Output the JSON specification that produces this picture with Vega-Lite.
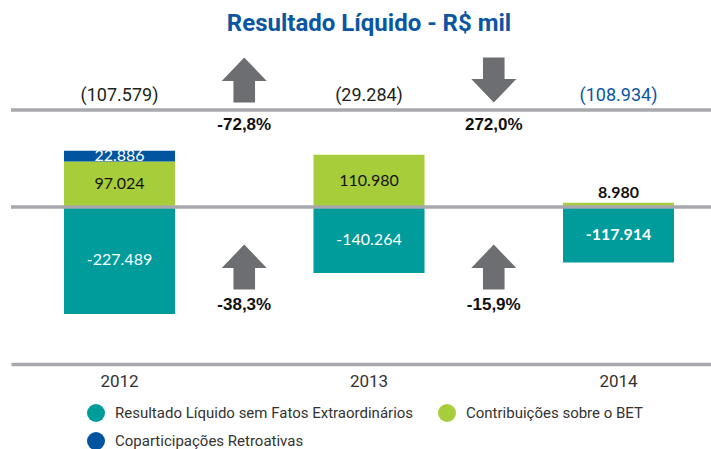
{
  "$schema": "https://vega.github.io/schema/vega-lite/v6.json",
  "width": 700,
  "height": 319,
  "autosize": {"type": "none"},
  "padding": {"left": 11, "top": 45, "right": 0, "bottom": 85},
  "background": "white",
  "title": {"text": "Resultado Líquido - R$ mil", "font": "Roboto", "fontSize": 24, "fontWeight": "bold", "color": "#0b56a2", "anchor": "middle", "offset": 9, "dx": 8},
  "config": {
    "view": {"stroke": null},
    "locale": {"number": {"decimal": ",", "thousands": ".", "grouping": [3], "currency": ["R$ ", ""], "minus": "-"}},
    "axisX": {"labelExpr": "indexof(datum.value, '-') >= 0 ? '' : datum.value", "labelAngle": 0, "ticks": false, "domain": true, "domainColor": "#a7a9ac", "domainWidth": 3.5, "labelFont": "Roboto", "labelFontSize": 17, "labelColor": "#333333", "labelPadding": 9, "grid": false}
  },
  "datasets": {
    "bars": [
      {"col": "2012", "series": "Resultado Líquido sem Fatos Extraordinários", "value": -227489},
      {"col": "2012", "series": "Contribuições sobre o BET", "value": 97024},
      {"col": "2012", "series": "Coparticipações Retroativas", "value": 22886},
      {"col": "2013", "series": "Resultado Líquido sem Fatos Extraordinários", "value": -140264},
      {"col": "2013", "series": "Contribuições sobre o BET", "value": 110980},
      {"col": "2014", "series": "Resultado Líquido sem Fatos Extraordinários", "value": -117914},
      {"col": "2014", "series": "Contribuições sobre o BET", "value": 8980}
    ],
    "changes": [
      {"col": "2012-2013", "row": "total", "dir": "up", "pct": -0.728},
      {"col": "2013-2014", "row": "total", "dir": "down", "pct": 2.72},
      {"col": "2012-2013", "row": "base", "dir": "up", "pct": -0.383},
      {"col": "2013-2014", "row": "base", "dir": "up", "pct": -0.159}
    ]
  },
  "layer": [
    {
      "data": {"name": "bars"},
      "transform": [
        {"stack": "value", "groupby": ["col"], "sort": [{"field": "series", "order": "ascending"}], "as": ["y0", "y1"], "offset": "zero"}
      ],
      "mark": {"type": "bar", "width": {"band": 0.89}},
      "encoding": {
        "x": {
          "field": "col", "type": "nominal", "sort": null, "title": null,
          "scale": {"domain": ["2012", "2012-2013", "2013", "2013-2014", "2014"], "paddingInner": 0, "paddingOuter": 0.3055, "align": 0.605}
        },
        "y": {"field": "y0", "type": "quantitative", "scale": {"domain": [-334000, 344700], "nice": false, "zero": false}, "axis": null},
        "y2": {"field": "y1"},
        "color": {
          "field": "series", "type": "nominal",
          "scale": {"domain": ["Resultado Líquido sem Fatos Extraordinários", "Contribuições sobre o BET", "Coparticipações Retroativas"], "range": ["#009b9b", "#a8cd3a", "#0054a0"]},
          "legend": {"orient": "none", "legendX": 76, "legendY": 359, "direction": "horizontal", "columns": 2, "title": null, "symbolType": "circle", "symbolSize": 324, "symbolStrokeWidth": 0, "labelFont": "Roboto", "labelFontSize": 15, "labelColor": "#333333", "labelOffset": 10, "labelLimit": 500, "columnPadding": 24, "rowPadding": 10, "padding": 0}
        }
      }
    },
    {
      "data": {"values": [{}]},
      "mark": {"type": "rule", "stroke": "#a7a9ac", "strokeWidth": 3.5},
      "encoding": {"y": {"datum": 0}}
    },
    {
      "data": {"values": [{}]},
      "mark": {"type": "rule", "stroke": "#a7a9ac", "strokeWidth": 3.5},
      "encoding": {"y": {"datum": 206400}}
    },
    {
      "data": {"name": "bars"},
      "transform": [
        {"stack": "value", "groupby": ["col"], "sort": [{"field": "series", "order": "ascending"}], "as": ["y0", "y1"], "offset": "zero"},
        {"calculate": "(datum.y0 + datum.y1) / 2", "as": "mid"},
        {"filter": "datum.col !== '2014'"}
      ],
      "mark": {"type": "text", "font": "Lato", "fontSize": 16, "baseline": "middle"},
      "encoding": {
        "x": {"field": "col", "type": "nominal", "sort": null, "title": null, "scale": {"domain": ["2012", "2012-2013", "2013", "2013-2014", "2014"]}},
        "y": {"field": "mid", "type": "quantitative"},
        "text": {"field": "value", "type": "quantitative", "format": ",d"},
        "color": {"condition": {"test": "datum.series === 'Contribuições sobre o BET'", "value": "#111111"}, "value": "#ffffff"}
      }
    },
    {
      "data": {"name": "bars"},
      "transform": [
        {"filter": "datum.col === '2014' && datum.value < 0"},
        {"calculate": "datum.value / 2", "as": "mid"}
      ],
      "mark": {"type": "text", "font": "Lato", "fontSize": 16, "fontWeight": "bold", "baseline": "middle", "color": "#ffffff"},
      "encoding": {
        "x": {"field": "col", "type": "nominal", "sort": null, "title": null, "scale": {"domain": ["2012", "2012-2013", "2013", "2013-2014", "2014"]}},
        "y": {"field": "mid", "type": "quantitative"},
        "text": {"field": "value", "type": "quantitative", "format": ",d"}
      }
    },
    {
      "data": {"name": "bars"},
      "transform": [
        {"filter": "datum.col === '2014' && datum.value > 0"}
      ],
      "mark": {"type": "text", "font": "Lato", "fontSize": 16, "fontWeight": "bold", "baseline": "bottom", "dy": -2, "color": "#111111"},
      "encoding": {
        "x": {"field": "col", "type": "nominal", "sort": null, "title": null, "scale": {"domain": ["2012", "2012-2013", "2013", "2013-2014", "2014"]}},
        "y": {"field": "value", "type": "quantitative"},
        "text": {"field": "value", "type": "quantitative", "format": ",d"}
      }
    },
    {
      "data": {"name": "bars"},
      "transform": [
        {"aggregate": [{"op": "sum", "field": "value", "as": "total"}], "groupby": ["col"]}
      ],
      "mark": {"type": "text", "font": "Roboto", "fontSize": 18, "baseline": "middle"},
      "encoding": {
        "x": {"field": "col", "type": "nominal", "sort": null, "title": null, "scale": {"domain": ["2012", "2012-2013", "2013", "2013-2014", "2014"]}},
        "y": {"datum": 236000},
        "text": {"field": "total", "type": "quantitative", "format": "(,d"},
        "color": {"condition": {"test": "datum.col === '2014'", "value": "#0b56a2"}, "value": "#231f20"}
      }
    },
    {
      "data": {"name": "changes"},
      "transform": [{"filter": "datum.row === 'total'"}],
      "mark": {"type": "point", "filled": true, "opacity": 1, "size": 2025, "color": "#6d6e71", "strokeWidth": 0},
      "encoding": {
        "x": {"field": "col", "type": "nominal", "sort": null, "title": null, "scale": {"domain": ["2012", "2012-2013", "2013", "2013-2014", "2014"]}},
        "y": {"datum": 270200},
        "shape": {"field": "dir", "type": "nominal", "scale": {"domain": ["up", "down"], "range": ["M0,-1L1,0.04L0.48,0.04L0.48,1L-0.48,1L-0.48,0.04L-1,0.04Z", "M0,1L1,-0.04L0.48,-0.04L0.48,-1L-0.48,-1L-0.48,-0.04L-1,-0.04Z"]}, "legend": null}
      }
    },
    {
      "data": {"name": "changes"},
      "transform": [{"filter": "datum.row === 'base'"}],
      "mark": {"type": "point", "filled": true, "opacity": 1, "size": 2025, "color": "#6d6e71", "strokeWidth": 0},
      "encoding": {
        "x": {"field": "col", "type": "nominal", "sort": null, "title": null, "scale": {"domain": ["2012", "2012-2013", "2013", "2013-2014", "2014"]}},
        "y": {"datum": -127700},
        "shape": {"field": "dir", "type": "nominal", "legend": null}
      }
    },
    {
      "data": {"name": "changes"},
      "transform": [{"filter": "datum.row === 'total'"}],
      "mark": {"type": "text", "font": "Liberation Sans", "fontSize": 17, "fontWeight": "bold", "baseline": "middle", "color": "#111111"},
      "encoding": {
        "x": {"field": "col", "type": "nominal", "sort": null, "title": null, "scale": {"domain": ["2012", "2012-2013", "2013", "2013-2014", "2014"]}},
        "y": {"datum": 174500},
        "text": {"field": "pct", "type": "quantitative", "format": ".1%"}
      }
    },
    {
      "data": {"name": "changes"},
      "transform": [{"filter": "datum.row === 'base'"}],
      "mark": {"type": "text", "font": "Liberation Sans", "fontSize": 17, "fontWeight": "bold", "baseline": "middle", "color": "#111111"},
      "encoding": {
        "x": {"field": "col", "type": "nominal", "sort": null, "title": null, "scale": {"domain": ["2012", "2012-2013", "2013", "2013-2014", "2014"]}},
        "y": {"datum": -208500},
        "text": {"field": "pct", "type": "quantitative", "format": ".1%"}
      }
    }
  ]
}
